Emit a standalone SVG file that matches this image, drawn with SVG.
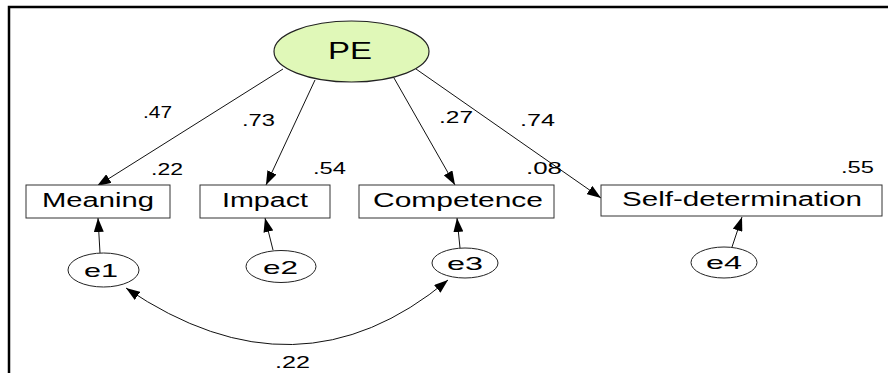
<svg xmlns="http://www.w3.org/2000/svg" width="888" height="373" viewBox="0 0 888 373">
<style>
  text { font-family: "Liberation Sans", Arial, sans-serif; fill: #000; }
  .box { fill: #fff; stroke: #333; stroke-width: 1; }
  .ell { fill: #fff; stroke: #222; stroke-width: 1; }
  .lat { fill: #E0F8B8; stroke: #222; stroke-width: 1.2; }
  .lbl { font-size: 19.5px; }
  .num { font-size: 17px; }
  .err { font-size: 19px; }
  .conn { fill: none; stroke: #111; stroke-width: 1; }
</style>
<defs>
  <marker id="ah" viewBox="0 0 14 10" refX="14" refY="5" markerWidth="14" markerHeight="10" markerUnits="userSpaceOnUse" orient="auto-start-reverse">
    <path d="M0,0 L14,5 L0,10 z" fill="#000"/>
  </marker>
</defs>
<rect x="0" y="0" width="888" height="373" fill="#fff"/>
<rect x="9" y="7" width="900" height="400" fill="none" stroke="#000" stroke-width="2.5"/>

<g id="connectors">
  <line class="conn" x1="283" y1="69" x2="97" y2="186" marker-end="url(#ah)"/>
  <line class="conn" x1="315" y1="80" x2="266" y2="185" marker-end="url(#ah)"/>
  <line class="conn" x1="394" y1="78" x2="455" y2="185" marker-end="url(#ah)"/>
  <line class="conn" x1="416" y1="69" x2="601" y2="198" marker-end="url(#ah)"/>
  <line class="conn" x1="100" y1="253" x2="98" y2="218" marker-end="url(#ah)"/>
  <line class="conn" x1="273" y1="250" x2="265" y2="218" marker-end="url(#ah)"/>
  <line class="conn" x1="460" y1="248" x2="457" y2="218" marker-end="url(#ah)"/>
  <line class="conn" x1="732" y1="247" x2="742" y2="217" marker-end="url(#ah)"/>
  <path class="conn" d="M126,288 Q298,405 448,280" marker-start="url(#ah)" marker-end="url(#ah)"/>
</g>

<g id="PE">
  <ellipse class="lat" cx="351.5" cy="51.5" rx="77.5" ry="30.5"/>
  <text x="328" y="59" font-size="23" textLength="44" lengthAdjust="spacingAndGlyphs">PE</text>
</g>
<g id="Meaning">
  <rect class="box" x="26" y="185" width="144" height="33"/>
  <text class="lbl" x="42" y="207" textLength="112" lengthAdjust="spacingAndGlyphs">Meaning</text>
</g>
<g id="Impact">
  <rect class="box" x="200" y="185" width="130" height="33"/>
  <text class="lbl" x="222" y="207" textLength="86" lengthAdjust="spacingAndGlyphs">Impact</text>
</g>
<g id="Competence">
  <rect class="box" x="359" y="185" width="195" height="33"/>
  <text class="lbl" x="373" y="207" textLength="170" lengthAdjust="spacingAndGlyphs">Competence</text>
</g>
<g id="Self-determination">
  <rect class="box" x="601" y="185" width="281" height="31"/>
  <text class="lbl" x="622" y="206" textLength="240" lengthAdjust="spacingAndGlyphs">Self-determination</text>
</g>
<g id="e1">
  <ellipse class="ell" cx="103.5" cy="270" rx="35.5" ry="17"/>
  <text class="err" x="84" y="277" textLength="34" lengthAdjust="spacingAndGlyphs">e1</text>
</g>
<g id="e2">
  <ellipse class="ell" cx="281" cy="266.5" rx="35" ry="16"/>
  <text class="err" x="263" y="274" textLength="35" lengthAdjust="spacingAndGlyphs">e2</text>
</g>
<g id="e3">
  <ellipse class="ell" cx="465" cy="263" rx="33" ry="15"/>
  <text class="err" x="447" y="270" textLength="36" lengthAdjust="spacingAndGlyphs">e3</text>
</g>
<g id="e4">
  <ellipse class="ell" cx="724" cy="262.5" rx="33" ry="15.5"/>
  <text class="err" x="706" y="269" textLength="36" lengthAdjust="spacingAndGlyphs">e4</text>
</g>

<g id="labels">
  <text class="num" x="143" y="118" textLength="29" lengthAdjust="spacingAndGlyphs">.47</text>
  <text class="num" x="242" y="126" textLength="33" lengthAdjust="spacingAndGlyphs">.73</text>
  <text class="num" x="151" y="175" textLength="32" lengthAdjust="spacingAndGlyphs">.22</text>
  <text class="num" x="313" y="174" textLength="33" lengthAdjust="spacingAndGlyphs">.54</text>
  <text class="num" x="439" y="123" textLength="34" lengthAdjust="spacingAndGlyphs">.27</text>
  <text class="num" x="520" y="126" textLength="35" lengthAdjust="spacingAndGlyphs">.74</text>
  <text class="num" x="526" y="174" textLength="36" lengthAdjust="spacingAndGlyphs">.08</text>
  <text class="num" x="841" y="173" textLength="33" lengthAdjust="spacingAndGlyphs">.55</text>
  <text class="num" x="275" y="368" textLength="35" lengthAdjust="spacingAndGlyphs">.22</text>
</g>
</svg>
